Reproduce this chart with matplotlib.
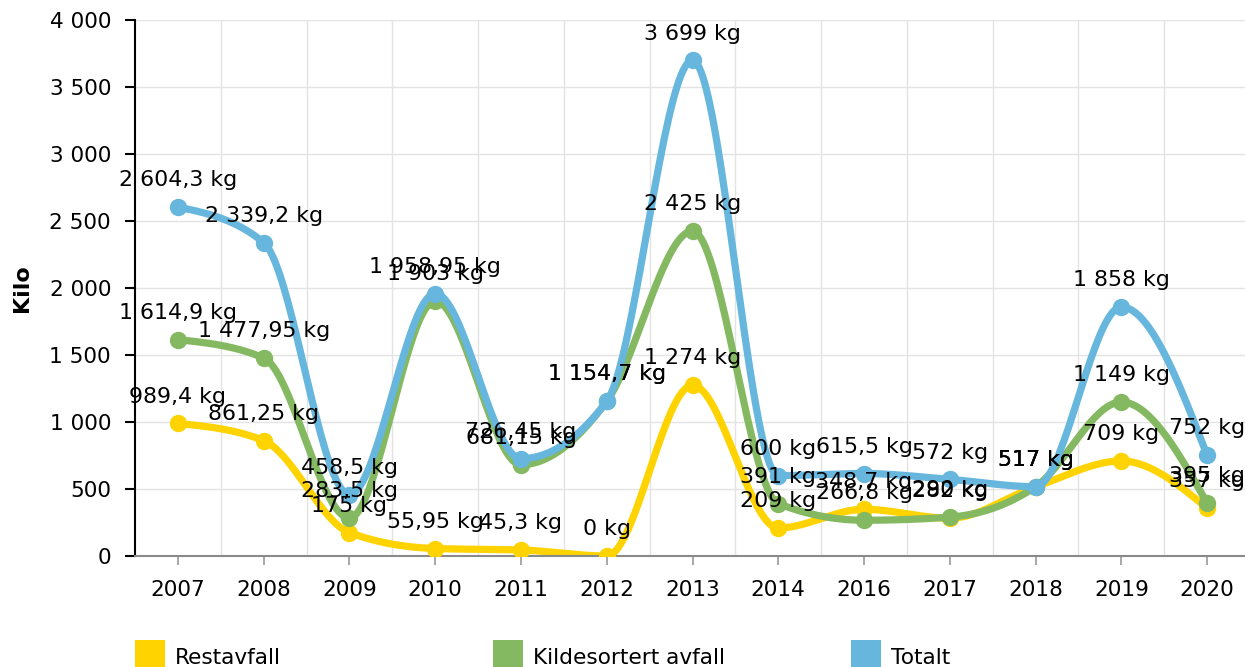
import numpy as np
import matplotlib
matplotlib.use("Agg")
import matplotlib.pyplot as plt
from matplotlib.patches import Rectangle

years = ["2007", "2008", "2009", "2010", "2011", "2012", "2013",
         "2014", "2016", "2017", "2018", "2019", "2020"]
restavfall = [989.4, 861.25, 175, 55.95, 45.3, 0, 1274, 209, 348.7, 282, 517, 709, 357]
kildesortert = [1614.9, 1477.95, 283.5, 1903, 681.15, 1154.7, 2425, 391, 266.8, 290, 517, 1149, 395]
totalt = [2604.3, 2339.2, 458.5, 1958.95, 726.45, 1154.7, 3699, 600, 615.5, 572, 517, 1858, 752]

series_names = ["Restavfall", "Kildesortert avfall", "Totalt"]
series_colors = ["#FFD300", "#84B962", "#66B6DE"]
series_values = [restavfall, kildesortert, totalt]
y_ticks = [0, 500, 1000, 1500, 2000, 2500, 3000, 3500, 4000]


def fmt(v):
    if float(v) == int(v):
        s = f"{int(v):,}"
    else:
        s = f"{v:,}"
    return s.replace(",", "\u0001").replace(".", ",").replace("\u0001", " ")


def smooth(xs, ys, samples=40):
    """Monotone cubic interpolation (monotoneX style)."""
    xs = np.asarray(xs, float)
    ys = np.asarray(ys, float)
    n = len(xs)
    h = np.diff(xs)
    s = np.diff(ys) / h
    tan = np.zeros(n)
    for i in range(1, n - 1):
        s0, s1 = s[i - 1], s[i]
        p = (s0 * h[i] + s1 * h[i - 1]) / (h[i - 1] + h[i])
        tan[i] = (np.sign(s0) + np.sign(s1)) * min(abs(s0), abs(s1), 0.5 * abs(p))
    tan[0] = (3 * s[0] - tan[1]) / 2
    tan[-1] = (3 * s[-1] - tan[-2]) / 2
    t = np.linspace(0, 1, samples)
    outx, outy = [], []
    for i in range(1, n):
        x0, y0, x3, y3 = xs[i - 1], ys[i - 1], xs[i], ys[i]
        d = (x3 - x0) / 3.0
        x1, y1 = x0 + d, y0 + tan[i - 1] * d
        x2, y2 = x3 - d, y3 - tan[i] * d
        a = (1 - t) ** 3
        b = 3 * (1 - t) ** 2 * t
        c = 3 * (1 - t) * t ** 2
        e = t ** 3
        outx.extend(a * x0 + b * x1 + c * x2 + e * x3)
        outy.extend(a * y0 + b * y1 + c * y2 + e * y3)
    return np.array(outx), np.array(outy)


W, H = 1245, 667
fig = plt.figure(figsize=(W / 100, H / 100), dpi=100)
ax = fig.add_axes([135 / W, (H - 556) / H, 1115 / W, 536 / H])

x = np.arange(len(years))
ax.set_xlim(-0.5, len(years) - 0.5)
ax.set_ylim(0, 4000)

for yt in y_ticks[1:]:
    ax.axhline(yt, color="#e3e3e3", lw=1.0, zorder=0)
for b in np.arange(0.5, len(years) - 0.5, 1.0):
    ax.axvline(b, color="#e3e3e3", lw=1.0, zorder=0)

for k, (vals, col) in enumerate(zip(series_values, series_colors)):
    sx, sy = smooth(x, vals)
    ax.plot(sx, sy, color=col, lw=5.2, solid_capstyle="round", solid_joinstyle="round",
            zorder=2 + k * 2)
    ax.plot(x, vals, "o", color=col, ms=12.5, mew=0, zorder=3 + k * 2)

for vals in series_values:
    for xi, v in zip(x, vals):
        ax.annotate(fmt(v) + " kg", (xi, v), xytext=(0, 15), textcoords="offset points",
                    ha="center", va="baseline", fontsize=15.9, color="black",
                    zorder=20, annotation_clip=False)

ax.set_xticks(x)
ax.set_xticklabels(years, fontsize=15.6)
ax.set_yticks(y_ticks)
ax.set_yticklabels([fmt(v) for v in y_ticks], fontsize=15.6)

for sp in ["top", "right"]:
    ax.spines[sp].set_visible(False)
ax.spines["left"].set_color("black")
ax.spines["left"].set_linewidth(1.5)
ax.spines["bottom"].set_color("#8a8a8a")
ax.spines["bottom"].set_linewidth(1.5)
ax.tick_params(axis="y", length=7.2, width=1.5, color="black", pad=10)
ax.tick_params(axis="x", length=6.5, width=1.2, color="#9a9a9a", pad=11)

fig.text(22 / W, 1 - 288 / H, "Kilo", rotation=90, fontsize=16, fontweight="bold",
         ha="center", va="center")

leg_x = [135, 493, 851]
for lx, name, col in zip(leg_x, series_names, series_colors):
    fig.add_artist(Rectangle((lx / W, 0), 30 / W, (H - 640) / H, transform=fig.transFigure,
                             facecolor=col, edgecolor="none"))
    fig.text((lx + 40) / W, (H - 664) / H, name, fontsize=15.6, ha="left", va="baseline")

fig.savefig("out.png", dpi=100)
